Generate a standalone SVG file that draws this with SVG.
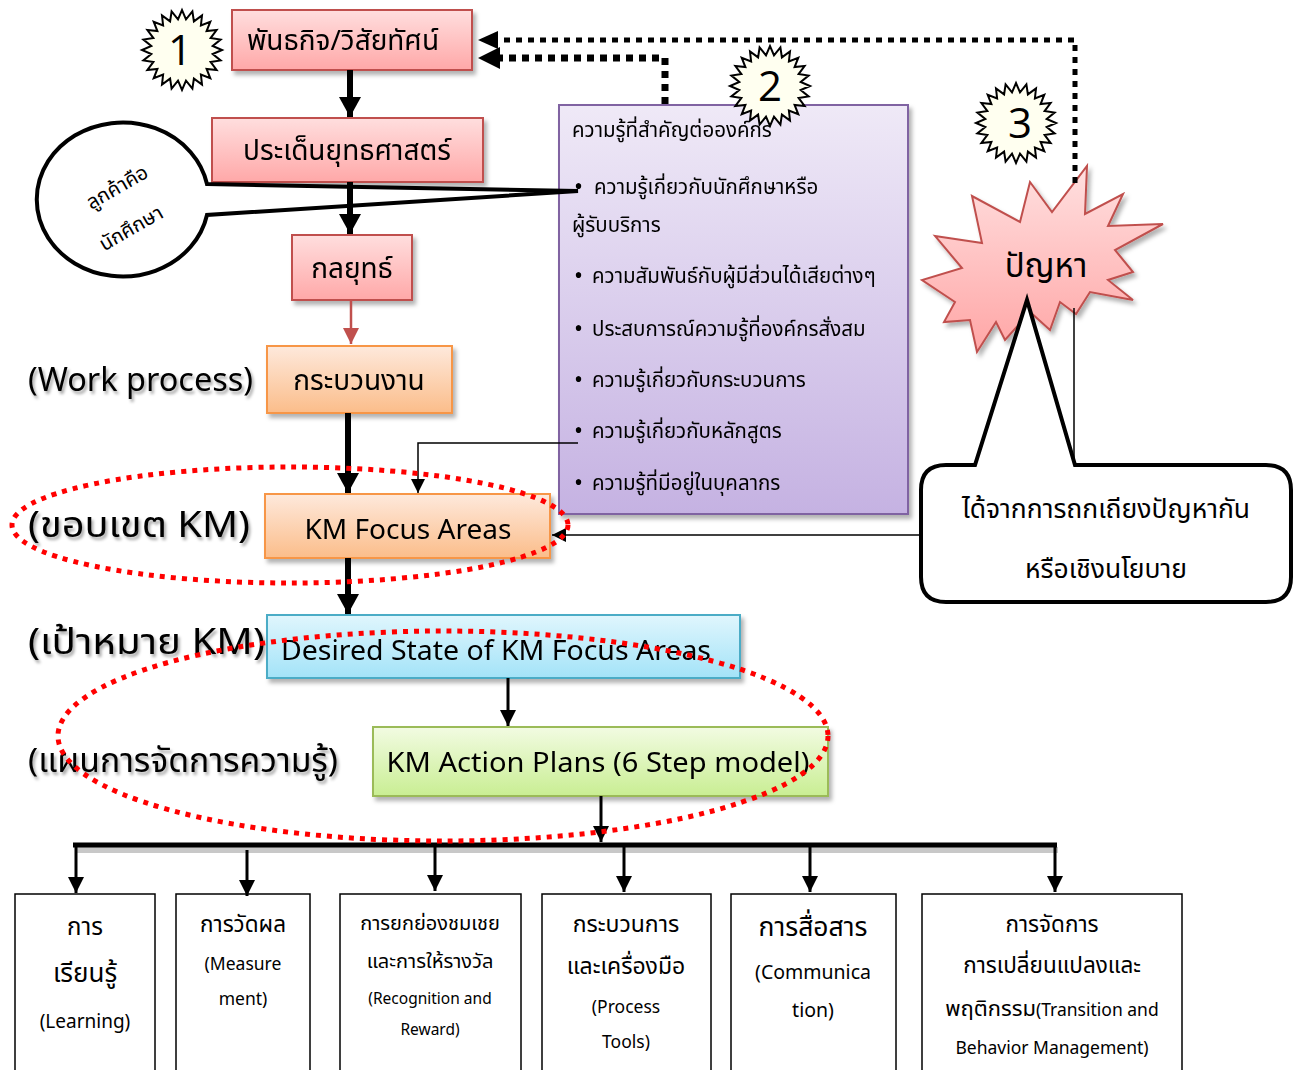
<svg xmlns="http://www.w3.org/2000/svg" width="1299" height="1070" viewBox="0 0 1299 1070">
  <defs>
    <linearGradient id="gPink" x1="0" y1="0" x2="0" y2="1">
      <stop offset="0" stop-color="#ffdede"/>
      <stop offset="1" stop-color="#ffa8a8"/>
    </linearGradient>
    <linearGradient id="gOrange" x1="0" y1="0" x2="0" y2="1">
      <stop offset="0" stop-color="#fee9dc"/>
      <stop offset="1" stop-color="#fbbd8a"/>
    </linearGradient>
    <linearGradient id="gBlue" x1="0" y1="0" x2="0" y2="1">
      <stop offset="0" stop-color="#e0f6fd"/>
      <stop offset="1" stop-color="#a3e3f8"/>
    </linearGradient>
    <linearGradient id="gGreen" x1="0" y1="0" x2="0" y2="1">
      <stop offset="0" stop-color="#f2fbe2"/>
      <stop offset="1" stop-color="#c9ee93"/>
    </linearGradient>
    <linearGradient id="gPurple" x1="0" y1="0" x2="0" y2="1">
      <stop offset="0" stop-color="#efe9f7"/>
      <stop offset="1" stop-color="#c5b2e2"/>
    </linearGradient>
    <linearGradient id="gBurst" x1="0" y1="0" x2="0" y2="1">
      <stop offset="0" stop-color="#ffe0e0"/>
      <stop offset="1" stop-color="#ffa6a6"/>
    </linearGradient>
    <filter id="shadow" x="-10%" y="-10%" width="130%" height="140%">
      <feDropShadow dx="3" dy="4" stdDeviation="2" flood-color="#000" flood-opacity="0.3"/>
    </filter>
    <filter id="tshadow" x="-5%" y="-20%" width="115%" height="150%">
      <feDropShadow dx="2" dy="3" stdDeviation="1.5" flood-color="#000" flood-opacity="0.35"/>
    </filter>
    <!-- 24-point seal used for the numbered steps -->
    <polygon id="seal" points="40,0 30.7,4 38.6,10.4 28.6,11.9 34.6,20 24.6,18.9 28.3,28.3 18.9,24.6 20,34.6 11.9,28.6 10.4,38.6 4,30.7 0,40 -4,30.7 -10.4,38.6 -11.9,28.6 -20,34.6 -18.9,24.6 -28.3,28.3 -24.6,18.9 -34.6,20 -28.6,11.9 -38.6,10.4 -30.7,4 -40,0 -30.7,-4 -38.6,-10.4 -28.6,-11.9 -34.6,-20 -24.6,-18.9 -28.3,-28.3 -18.9,-24.6 -20,-34.6 -11.9,-28.6 -10.4,-38.6 -4,-30.7 0,-40 4,-30.7 10.4,-38.6 11.9,-28.6 20,-34.6 18.9,-24.6 28.3,-28.3 24.6,-18.9 34.6,-20 28.6,-11.9 38.6,-10.4 30.7,-4" fill="#fffff0" stroke="#000" stroke-width="2" stroke-linejoin="miter"/>
    <marker id="ahBig" markerUnits="userSpaceOnUse" markerWidth="22" markerHeight="22" refX="20" refY="11" orient="auto">
      <path d="M0,0 L20,11 L0,22 Z" fill="#000"/>
    </marker>
    <marker id="ahMid" markerUnits="userSpaceOnUse" markerWidth="18" markerHeight="18" refX="16" refY="9" orient="auto">
      <path d="M0,1 L16,9 L0,17 Z" fill="#000"/>
    </marker>
    <marker id="ahSmall" markerUnits="userSpaceOnUse" markerWidth="16" markerHeight="16" refX="14" refY="8" orient="auto">
      <path d="M0,1 L14,8 L0,15 Z" fill="#000"/>
    </marker>
    <marker id="ahRed" markerUnits="userSpaceOnUse" markerWidth="18" markerHeight="18" refX="16" refY="9" orient="auto">
      <path d="M0,1 L16,9 L0,17 Z" fill="#c0504d"/>
    </marker>
  </defs>
  <style>
    text { font-family: "Noto Sans Thai", "Tahoma", "Noto Sans", "DejaVu Sans", sans-serif; fill: #000; }
    .ctr { text-anchor: middle; }
    .num { font-family: "Open Sans", "Noto Sans", sans-serif; font-size: 42px; text-anchor: middle; }
    .pink { fill: url(#gPink); stroke: #c0504d; stroke-width: 2; }
    .orange { fill: url(#gOrange); stroke: #f79646; stroke-width: 2; }
    .blue { fill: url(#gBlue); stroke: #4bacc6; stroke-width: 2; }
    .green { fill: url(#gGreen); stroke: #9bbb59; stroke-width: 2; }
    .purple { fill: url(#gPurple); stroke: #8064a2; stroke-width: 2; }
    .plain { fill: #fff; stroke: #000; stroke-width: 1.5; }
    .thick { stroke: #000; stroke-width: 6; fill: none; }
    .mid { stroke: #000; stroke-width: 3; fill: none; }
    .thin { stroke: #000; stroke-width: 1.5; fill: none; }
    .dots { stroke: #000; fill: none; }
    .redDots { fill: none; stroke: #ff0000; stroke-width: 5; stroke-dasharray: 5 6; }
    .item { font-size: 20.5px; }
    .bullet { font-size: 24px; }
  </style>

  <!-- left side labels -->
  <g id="labels" filter="url(#tshadow)">
    <text x="28" y="391" style="font-size:32px" textLength="225" lengthAdjust="spacingAndGlyphs">(Work process)</text>
    <text x="28" y="537" style="font-size:36px" textLength="222" lengthAdjust="spacingAndGlyphs">(ขอบเขต KM)</text>
    <text x="28" y="654" style="font-size:36px" textLength="237" lengthAdjust="spacingAndGlyphs">(เป้าหมาย KM)</text>
    <text x="28" y="772" style="font-size:33px" textLength="310" lengthAdjust="spacingAndGlyphs">(แผนการจัดการความรู้)</text>
  </g>

  <!-- main flow boxes -->
  <g id="mission" filter="url(#shadow)">
    <rect class="pink" x="232" y="10" width="240" height="60"/>
    <text class="ctr" x="343" y="50" style="font-size:28px">พันธกิจ/วิสัยทัศน์</text>
  </g>
  <g id="strategic-issues" filter="url(#shadow)">
    <rect class="pink" x="212" y="118" width="271" height="64"/>
    <text class="ctr" x="347" y="160" style="font-size:28px">ประเด็นยุทธศาสตร์</text>
  </g>
  <g id="strategy" filter="url(#shadow)">
    <rect class="pink" x="292" y="235" width="120" height="65"/>
    <text class="ctr" x="352" y="278" style="font-size:28px">กลยุทธ์</text>
  </g>
  <g id="work-process" filter="url(#shadow)">
    <rect class="orange" x="267" y="346" width="185" height="67"/>
    <text class="ctr" x="359" y="390" style="font-size:28px">กระบวนงาน</text>
  </g>
  <g id="focus-areas" filter="url(#shadow)">
    <rect class="orange" x="265" y="494" width="285" height="64"/>
    <text class="ctr" x="408" y="539" style="font-size:28px" textLength="207" lengthAdjust="spacingAndGlyphs">KM Focus Areas</text>
  </g>
  <g id="desired-state" filter="url(#shadow)">
    <rect class="blue" x="267" y="615" width="473" height="63"/>
    <text class="ctr" x="496" y="660" style="font-size:28px" textLength="430" lengthAdjust="spacingAndGlyphs">Desired State of KM Focus Areas</text>
  </g>
  <g id="action-plans" filter="url(#shadow)">
    <rect class="green" x="373" y="727" width="455" height="69"/>
    <text class="ctr" x="598" y="772" style="font-size:28px" textLength="423" lengthAdjust="spacingAndGlyphs">KM Action Plans (6 Step model)</text>
  </g>

  <!-- knowledge box -->
  <g id="key-knowledge" filter="url(#shadow)">
    <rect class="purple" x="559" y="105" width="349" height="409"/>
    <text class="item" x="572" y="137">ความรู้ที่สำคัญต่อองค์กร</text>
    <g class="bullet">
      <text x="574" y="195">•</text>
      <text x="574" y="284">•</text>
      <text x="574" y="337">•</text>
      <text x="574" y="388">•</text>
      <text x="574" y="439">•</text>
      <text x="574" y="491">•</text>
    </g>
    <text class="item" x="594" y="194">ความรู้เกี่ยวกับนักศึกษาหรือ</text>
    <text class="item" x="572" y="232">ผู้รับบริการ</text>
    <text class="item" x="592" y="283">ความสัมพันธ์กับผู้มีส่วนได้เสียต่างๆ</text>
    <text class="item" x="592" y="336">ประสบการณ์ความรู้ที่องค์กรสั่งสม</text>
    <text class="item" x="592" y="387">ความรู้เกี่ยวกับกระบวนการ</text>
    <text class="item" x="592" y="438">ความรู้เกี่ยวกับหลักสูตร</text>
    <text class="item" x="592" y="490">ความรู้ที่มีอยู่ในบุคลากร</text>
  </g>

  <!-- customer callout -->
  <g id="customer-callout">
    <path d="M207,184 L578,191 L207,215 A86,77 0 1 1 207,184 Z" fill="#fff" stroke="#000" stroke-width="4" stroke-linejoin="miter"/>
    <text class="ctr" x="117" y="194" transform="rotate(-30 117 187)" style="font-size:20px">ลูกค้าคือ</text>
    <text class="ctr" x="131" y="235" transform="rotate(-30 131 228)" style="font-size:20px">นักศึกษา</text>
  </g>

  <!-- problem burst -->
  <g id="problem">
    <path filter="url(#shadow)" d="M935,236 L982,243 L972,196 L1020,222 L1030,182 L1052,212 L1087,166 L1085,214 L1123,194 L1108,226 L1163,224 L1115,250 L1133,272 L1108,280 L1133,300 L1090,292 L1076,314 L1060,302 L1050,330 L1030,312 L1005,340 L996,322 L977,352 L970,320 L944,322 L955,302 L922,280 L962,268 Z" fill="url(#gBurst)" stroke="#c0504d" stroke-width="2" stroke-linejoin="miter"/>
    <text class="ctr" x="1046" y="277" style="font-size:33px">ปัญหา</text>
  </g>

  <!-- debate callout -->
  <g id="debate-callout">
    <path d="M946,465 L975,465 L1027,300 L1075,465 L1266,465 Q1291,465 1291,490 L1291,577 Q1291,602 1266,602 L946,602 Q921,602 921,577 L921,490 Q921,465 946,465 Z" fill="#fff" stroke="#000" stroke-width="4" stroke-linejoin="miter"/>
    <line x1="1074" y1="308" x2="1074" y2="465" stroke="#000" stroke-width="1.5"/>
    <text class="ctr" x="1106" y="518" style="font-size:26.5px">ได้จากการถกเถียงปัญหากัน</text>
    <text class="ctr" x="1106" y="578" style="font-size:26.5px">หรือเชิงนโยบาย</text>
  </g>

  <!-- bottom component boxes -->
  <g id="learning">
    <rect class="plain" x="15" y="894" width="140" height="190"/>
    <text class="ctr" x="85" y="935" style="font-size:24px">การ</text>
    <text class="ctr" x="85" y="982" style="font-size:26px">เรียนรู้</text>
    <text class="ctr" x="85" y="1028" style="font-size:19px">(Learning)</text>
  </g>
  <g id="measurement">
    <rect class="plain" x="176" y="894" width="134" height="190"/>
    <text class="ctr" x="243" y="932" style="font-size:22.5px">การวัดผล</text>
    <text class="ctr" x="243" y="970" style="font-size:17.5px">(Measure</text>
    <text class="ctr" x="243" y="1005" style="font-size:17.5px">ment)</text>
  </g>
  <g id="recognition">
    <rect class="plain" x="340" y="894" width="181" height="190"/>
    <text class="ctr" x="430" y="930" style="font-size:20px">การยกย่องชมเชย</text>
    <text class="ctr" x="430" y="968" style="font-size:20px">และการให้รางวัล</text>
    <text class="ctr" x="430" y="1004" style="font-size:15.5px">(Recognition and</text>
    <text class="ctr" x="430" y="1035" style="font-size:15.5px">Reward)</text>
  </g>
  <g id="process-tools">
    <rect class="plain" x="542" y="894" width="169" height="190"/>
    <text class="ctr" x="626" y="932" style="font-size:23px">กระบวนการ</text>
    <text class="ctr" x="626" y="974" style="font-size:23px">และเครื่องมือ</text>
    <text class="ctr" x="626" y="1013" style="font-size:17.5px">(Process</text>
    <text class="ctr" x="626" y="1048" style="font-size:17.5px">Tools)</text>
  </g>
  <g id="communication">
    <rect class="plain" x="731" y="894" width="165" height="190"/>
    <text class="ctr" x="813" y="936" style="font-size:26.5px">การสื่อสาร</text>
    <text class="ctr" x="813" y="979" style="font-size:19.5px">(Communica</text>
    <text class="ctr" x="813" y="1017" style="font-size:19.5px">tion)</text>
  </g>
  <g id="change-management">
    <rect class="plain" x="922" y="894" width="260" height="190"/>
    <text class="ctr" x="1052" y="932" style="font-size:22.5px">การจัดการ</text>
    <text class="ctr" x="1052" y="973" style="font-size:22.5px">การเปลี่ยนแปลงและ</text>
    <text class="ctr" x="1052" y="1016" style="font-size:22px">พฤติกรรม<tspan style="font-size:17.5px">(Transition and</tspan></text>
    <text class="ctr" x="1052" y="1054" style="font-size:17.5px">Behavior Management)</text>
  </g>

  <!-- connectors -->
  <g id="connectors">
    <line class="thick" x1="350" y1="70" x2="350" y2="117" marker-end="url(#ahBig)"/>
    <line class="thick" x1="350" y1="182" x2="350" y2="234" marker-end="url(#ahBig)"/>
    <line x1="351" y1="300" x2="351" y2="344" stroke="#c0504d" stroke-width="2.5" marker-end="url(#ahRed)"/>
    <line class="thick" x1="348" y1="413" x2="348" y2="493" marker-end="url(#ahBig)"/>
    <polyline class="thin" points="578,443 418,443 418,493" marker-end="url(#ahSmall)"/>
    <line class="thin" x1="920" y1="535" x2="552" y2="535" marker-end="url(#ahSmall)"/>
    <line class="thick" x1="348" y1="558" x2="348" y2="614" marker-end="url(#ahBig)"/>
    <line class="mid" x1="508" y1="678" x2="508" y2="726" marker-end="url(#ahMid)"/>
    <line class="mid" x1="601" y1="796" x2="601" y2="842" marker-end="url(#ahMid)"/>
    <!-- distribution bar -->
    <line x1="77" y1="850" x2="1058" y2="850" stroke="#c8c8c8" stroke-width="6"/>
    <line x1="73" y1="845" x2="1057" y2="845" stroke="#000" stroke-width="5"/>
    <line class="mid" x1="76" y1="845" x2="76" y2="893" marker-end="url(#ahMid)"/>
    <line class="mid" x1="247" y1="850" x2="247" y2="896" marker-end="url(#ahMid)"/>
    <line class="mid" x1="435" y1="845" x2="435" y2="891" marker-end="url(#ahMid)"/>
    <line class="mid" x1="624" y1="845" x2="624" y2="892" marker-end="url(#ahMid)"/>
    <line class="mid" x1="810" y1="845" x2="810" y2="892" marker-end="url(#ahMid)"/>
    <line class="mid" x1="1055" y1="845" x2="1055" y2="892" marker-end="url(#ahMid)"/>
    <!-- feedback loops (dotted) -->
    <polyline class="dots" points="665,104 665,58 496,58" stroke-width="7" stroke-dasharray="7 6"/>
    <path d="M478,58 L500,47 L500,69 Z" fill="#000"/>
    <polyline class="dots" points="1075,183 1075,40 496,40" stroke-width="5" stroke-dasharray="6 6"/>
    <path d="M478,40 L498,31 L498,49 Z" fill="#000"/>
  </g>

  <!-- dashed scope rings -->
  <g id="scope-rings">
    <ellipse class="redDots" cx="290" cy="525" rx="278" ry="58"/>
    <ellipse class="redDots" cx="443" cy="736" rx="385" ry="105"/>
  </g>

  <!-- numbered step seals -->
  <g id="step-1">
    <use href="#seal" transform="translate(182,50)"/>
    <text class="num" x="180" y="65">1</text>
  </g>
  <g id="step-2">
    <use href="#seal" transform="translate(770,86)"/>
    <text class="num" x="770" y="101">2</text>
  </g>
  <g id="step-3">
    <use href="#seal" transform="translate(1016,123)"/>
    <text class="num" x="1020" y="138">3</text>
  </g>
</svg>
